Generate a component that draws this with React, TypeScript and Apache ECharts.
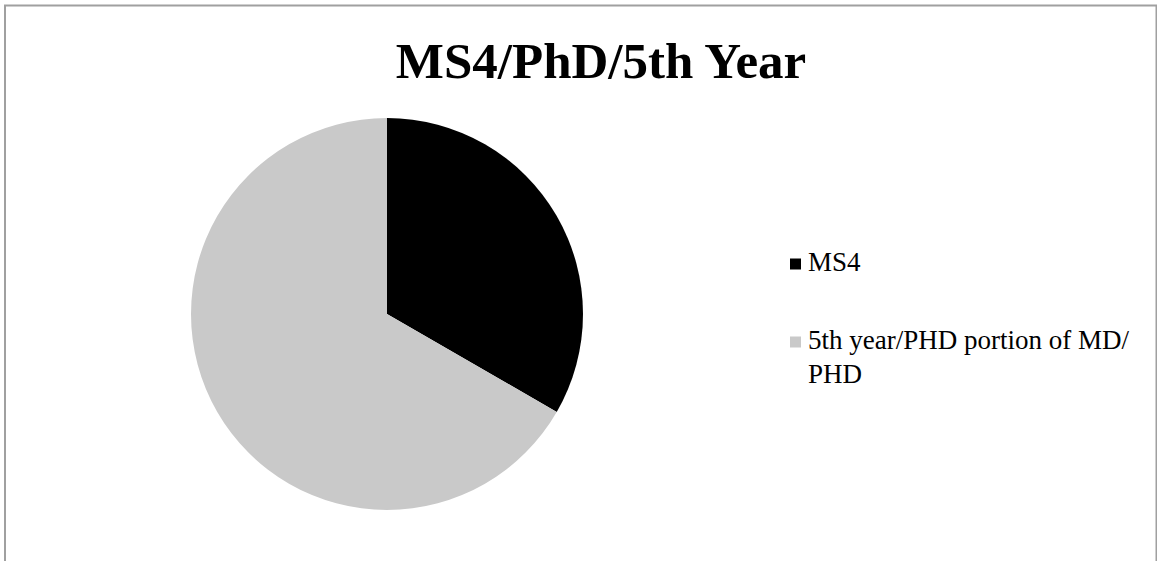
import React, { useEffect, useRef } from "react";
import * as echarts from "echarts";

const titleText = "MS4/PhD/5th Year";
const categories = ["MS4", "5th year/PHD portion of MD/PHD"];
const legendLines = [["MS4"], ["5th year/PHD portion of MD/", "PHD"]];
const values = [1, 2];
const colors = ["#000000", "#c9c9c9"];

export default function App() {
  const ref = useRef<HTMLDivElement>(null);
  useEffect(() => {
    if (!ref.current) return;
    const chart = echarts.init(ref.current, null, { renderer: "svg" });
    const font = "'Liberation Serif', 'DejaVu Serif', serif";
    const markerX = 790;
    const markerSize = 11;
    const textX = 808;
    const firstLineYs = [262, 340];
    const lineGap = 34;
    const legendGraphics: any[] = [];
    categories.forEach((c, i) => {
      legendGraphics.push({
        type: "rect",
        shape: { x: markerX, y: firstLineYs[i] + 2 - markerSize / 2, width: markerSize, height: markerSize },
        style: { fill: colors[i] },
        silent: true,
      });
      legendLines[i].forEach((line, j) => {
        legendGraphics.push({
          type: "text",
          x: textX,
          y: firstLineYs[i] + j * lineGap,
          style: {
            text: line,
            font: `27px ${font}`,
            fill: "#000",
            verticalAlign: "middle",
            textAlign: "left",
          },
          silent: true,
        });
      });
    });
    chart.setOption({
      animation: false,
      backgroundColor: "#ffffff",
      title: {
        text: titleText,
        left: 601,
        top: 35,
        padding: 0,
        textAlign: "center",
        textStyle: { fontFamily: font, fontWeight: "bold", fontSize: 51, color: "#000" },
      },
      graphic: [
        {
          type: "polyline",
          shape: { points: [[5, 600], [5, 5.5], [1156.5, 5.5], [1156.5, 600]] },
          style: { stroke: "#a0a0a0", lineWidth: 2, fill: "none" },
          silent: true,
        },
        ...legendGraphics,
      ],
      series: [
        {
          type: "pie",
          center: [387, 314],
          radius: 196,
          startAngle: 90,
          clockwise: true,
          label: { show: false },
          labelLine: { show: false },
          itemStyle: { borderWidth: 0 },
          emphasis: { disabled: true },
          data: categories.map((c, i) => ({ name: c, value: values[i], itemStyle: { color: colors[i] } })),
        },
      ],
    });
    return () => chart.dispose();
  }, []);
  return (
    <div
      ref={ref}
      style={{ position: "fixed", left: 0, top: 0, width: 1157, height: 561 }}
    />
  );
}
